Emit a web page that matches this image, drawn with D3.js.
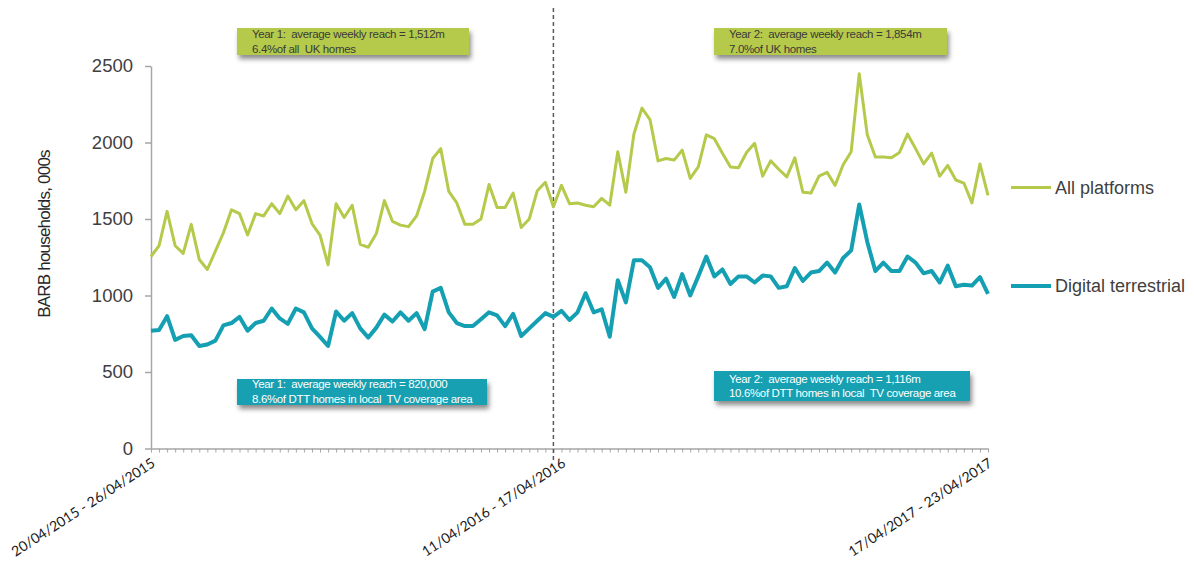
<!DOCTYPE html>
<html>
<head>
<meta charset="utf-8">
<script src="https://cdn.jsdelivr.net/npm/d3@7"></script>
<style>
  body { margin: 0; background: #fff; }
  svg { display: block; font-family: "Liberation Sans", Arial, sans-serif; }
</style>
</head>
<body>
<svg id="chart" width="1194" height="562"></svg>
<script>
// Weekly reach of local TV, BARB households (000s), weeks starting Monday 20/04/2015
const fmtDay = d3.timeFormat("%d/%m/%Y");
const weeks = d3.timeMonday.range(new Date(2015, 3, 20), new Date(2017, 3, 18))
  .map(d => fmtDay(d) + " - " + fmtDay(d3.timeDay.offset(d, 6)));

const seriesNames = ["All platforms", "Digital terrestrial"];

const allPlatforms = [
  1255, 1325, 1550, 1325, 1275, 1465, 1235, 1170, 1290, 1410,
  1560, 1535, 1395, 1535, 1520, 1600, 1535, 1650, 1560, 1620,
  1470, 1395, 1200, 1600, 1510, 1590, 1335, 1315, 1405, 1620,
  1485, 1460, 1450, 1520, 1680, 1895, 1960, 1680, 1605, 1465,
  1465, 1500, 1725, 1575, 1575, 1670, 1445, 1500, 1685, 1740,
  1580, 1720, 1600, 1605, 1590, 1580, 1635, 1590, 1940, 1675,
  2055, 2225, 2150, 1880, 1895, 1885, 1950, 1765, 1840, 2050,
  2025, 1930, 1840, 1835, 1935, 1995, 1780, 1880, 1825, 1775,
  1900, 1675, 1670, 1780, 1805, 1720, 1855, 1940, 2450, 2050,
  1905, 1905, 1900, 1935, 2055, 1960, 1860, 1930, 1780, 1850,
  1755, 1735, 1605, 1860, 1655
];

const digitalTerrestrial = [
  770, 775, 865, 710, 735, 740, 670, 680, 705, 805,
  820, 860, 770, 820, 835, 915, 850, 815, 915, 890,
  785, 730, 670, 895, 835, 885, 785, 725, 790, 875,
  830, 890, 835, 885, 780, 1025, 1050, 890, 820, 800,
  800, 845, 890, 870, 800, 880, 735, 785, 835, 885,
  860, 900, 840, 890, 1015, 890, 910, 730, 1100, 955,
  1230, 1230, 1185, 1050, 1110, 990, 1140, 1000, 1125, 1255,
  1125, 1170, 1075, 1125, 1125, 1085, 1130, 1125, 1050, 1060,
  1180, 1095, 1150, 1160, 1215, 1150, 1245, 1295, 1595, 1350,
  1160, 1215, 1160, 1160, 1255, 1215, 1145, 1160, 1085, 1195,
  1060, 1070, 1065, 1120, 1010
];

const yTicks = [0, 500, 1000, 1500, 2000, 2500];
const tickLabels = ["20/04/2015 - 26/04/2015", "11/04/2016 - 17/04/2016", "17/04/2017 - 23/04/2017"];
const yearBreak = "04/04/2016 - 10/04/2016";

const notesAll = [
  ["Year 1:  average weekly reach = 1,512m", "6.4%of all  UK homes"],
  ["Year 2:  average weekly reach = 1,854m", "7.0%of UK homes"]
];
const notesDtt = [
  ["Year 1:  average weekly reach = 820,000", "8.6%of DTT homes in local  TV coverage area"],
  ["Year 2:  average weekly reach = 1,116m", "10.6%of DTT homes in local  TV coverage area"]
];

const GREEN = "#b5ca4b";
const TEAL = "#14a0b2";
const AXIS = "#a6a6a6";
const TEXT = "#404040";

const svg = d3.select("#chart");

const defs = svg.append("defs");
const shadow = defs.append("filter").attr("id", "boxShadow")
  .attr("x", "-10%").attr("y", "-40%").attr("width", "125%").attr("height", "200%");
shadow.append("feDropShadow")
  .attr("dx", 2).attr("dy", 4).attr("stdDeviation", 2.5)
  .attr("flood-color", "#000").attr("flood-opacity", 0.45);

const x = d3.scalePoint().domain(weeks).range([151, 988]);
const y = d3.scaleLinear().domain([0, 2500]).range([448.5, 66]);

// Y axis
const yAxis = svg.append("g")
  .attr("transform", "translate(151,0)")
  .call(d3.axisLeft(y).tickValues(yTicks).tickFormat(d3.format("d"))
    .tickSize(6).tickSizeOuter(0).tickPadding(12));
yAxis.attr("font-family", null).attr("font-size", null);
yAxis.select(".domain").attr("stroke", AXIS).attr("stroke-width", 1.5);
yAxis.selectAll(".tick line").attr("stroke", AXIS).attr("stroke-width", 1.5);
yAxis.selectAll(".tick text").attr("fill", TEXT).style("font-size", "18.5px");

// Y axis title
svg.append("text")
  .attr("transform", "translate(50,234) rotate(-90)")
  .attr("text-anchor", "middle")
  .attr("fill", "#262626")
  .style("font-size", "17px")
  .style("letter-spacing", "-0.8px")
  .text("BARB households, 000s");

// X axis with a tick for every week
const xAxis = svg.append("g")
  .attr("transform", "translate(0,448.5)")
  .call(d3.axisBottom(x).tickSize(4).tickSizeOuter(0)
    .tickFormat(d => tickLabels.includes(d) ? d : ""));
xAxis.attr("font-family", null).attr("font-size", null);
xAxis.select(".domain").attr("stroke", AXIS).attr("stroke-width", 1.5);
xAxis.selectAll(".tick line").attr("stroke", AXIS).attr("stroke-width", 1);
xAxis.selectAll(".tick text")
  .attr("x", 0).attr("y", 0).attr("dy", "0.35em")
  .attr("text-anchor", "end")
  .attr("transform", "translate(2,13) rotate(-33)")
  .attr("fill", "#1a1a1a")
  .style("font-family", "Lato, 'Liberation Sans', sans-serif")
  .style("font-size", "14px");

// Year divider
svg.append("line")
  .attr("x1", x(yearBreak)).attr("x2", x(yearBreak))
  .attr("y1", 8).attr("y2", 460)
  .attr("stroke", "#595959").attr("stroke-width", 1.5)
  .attr("stroke-dasharray", "4,3");

// Series lines
const line = d3.line().x((d, i) => x(weeks[i])).y(d => y(d));
svg.append("path").datum(allPlatforms)
  .attr("fill", "none").attr("stroke", GREEN).attr("stroke-width", 3)
  .attr("stroke-linejoin", "round").attr("d", line);
svg.append("path").datum(digitalTerrestrial)
  .attr("fill", "none").attr("stroke", TEAL).attr("stroke-width", 4)
  .attr("stroke-linejoin", "round").attr("d", line);

// Legend
const legendItems = [
  { name: seriesNames[0], color: GREEN, width: 3, y: 187.5 },
  { name: seriesNames[1], color: TEAL, width: 4, y: 286 }
];
const legend = svg.append("g").selectAll("g").data(legendItems).join("g")
  .attr("transform", d => `translate(1011,${d.y})`);
legend.append("line").attr("x1", 0).attr("x2", 40)
  .attr("stroke", d => d.color).attr("stroke-width", d => d.width);
legend.append("text").attr("x", 44).attr("dy", "0.35em")
  .attr("fill", TEXT).style("font-size", "18px")
  .text(d => d.name);

// Annotation boxes
const boxes = [
  { lines: notesAll[0], fill: GREEN, ink: "#3a3a3a", x: 237, y: 28, w: 232, h: 27, t1: 38, t2: 52.5 },
  { lines: notesAll[1], fill: GREEN, ink: "#3a3a3a", x: 714, y: 28, w: 233, h: 27, t1: 38, t2: 52.5 },
  { lines: notesDtt[0], fill: TEAL, ink: "#ffffff", x: 237, y: 379, w: 250, h: 26, t1: 388, t2: 403 },
  { lines: notesDtt[1], fill: TEAL, ink: "#ffffff", x: 714, y: 371, w: 256, h: 30, t1: 382.5, t2: 397 }
];
const box = svg.append("g").selectAll("g").data(boxes).join("g");
box.append("rect")
  .attr("x", d => d.x).attr("y", d => d.y)
  .attr("width", d => d.w).attr("height", d => d.h)
  .attr("fill", d => d.fill).attr("filter", "url(#boxShadow)");
box.each(function (d) {
  const g = d3.select(this);
  [d.t1, d.t2].forEach((ty, i) => {
    g.append("text")
      .attr("x", d.x + 15).attr("y", ty)
      .attr("fill", d.ink)
      .style("font-size", "11.5px")
      .style("letter-spacing", "-0.35px")
      .style("white-space", "pre")
      .text(d.lines[i]);
  });
});
</script>
</body>
</html>
